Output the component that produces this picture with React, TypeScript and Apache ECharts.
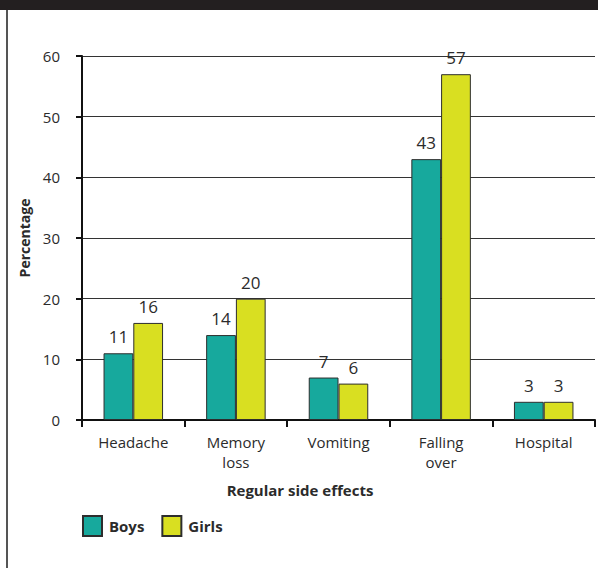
import React, { useEffect, useRef } from "react";
import * as echarts from "echarts";

const categories = ["Headache", "Memory\nloss", "Vomiting", "Falling\nover", "Hospital"];
const boys = [11, 14, 7, 43, 3];
const girls = [16, 20, 6, 57, 3];
const yTicks = { min: 0, max: 60, interval: 10 };

const FONT = "'Open Sans', sans-serif";
const TEXT = "#2b2b2b";

export default function App() {
  const ref = useRef<HTMLDivElement>(null);

  useEffect(() => {
    if (!ref.current) return;
    const chart = echarts.init(ref.current, null, { renderer: "svg" });
    const barLabel = {
      show: true,
      position: "top",
      distance: 8,
      fontSize: 17,
      fontFamily: FONT,
      color: TEXT,
    };
    chart.setOption({
      animation: false,
      backgroundColor: "#ffffff",
      textStyle: { fontFamily: FONT },
      grid: { left: 82, right: 3, top: 56, bottom: 148, containLabel: false },
      legend: {
        left: 82,
        top: 515,
        itemWidth: 19,
        itemHeight: 20,
        itemGap: 17,
        padding: 0,
        icon: "rect",
        textStyle: { fontFamily: FONT, fontSize: 15, fontWeight: "bold", color: TEXT, padding: [0, 0, 0, 2] },
        data: ["Boys", "Girls"],
      },
      xAxis: {
        type: "category",
        data: categories,
        boundaryGap: true,
        axisLine: { show: true, lineStyle: { color: "#111", width: 2 } },
        axisTick: { show: true, alignWithLabel: false, length: 7, lineStyle: { color: "#111", width: 2 } },
        axisLabel: { fontSize: 15, fontFamily: FONT, color: TEXT, margin: 12, lineHeight: 20, interval: 0 },
      },
      yAxis: {
        type: "value",
        min: yTicks.min,
        max: yTicks.max,
        interval: yTicks.interval,
        name: "Percentage",
        nameLocation: "middle",
        nameGap: 49,
        nameTextStyle: { fontFamily: FONT, fontSize: 14, fontWeight: "bold", color: TEXT },
        axisLine: { show: true, lineStyle: { color: "#111", width: 2 } },
        axisTick: { show: true, length: 6, lineStyle: { color: "#111", width: 2 } },
        axisLabel: { fontSize: 15, fontFamily: FONT, color: TEXT, margin: 22 },
        splitLine: { show: true, lineStyle: { color: "#333", width: 1 } },
      },
      series: [
        {
          name: "Boys",
          type: "bar",
          data: boys,
          barGap: "0%",
          barCategoryGap: "42%",
          itemStyle: { color: "#17A99D", borderColor: "#2d2d2d", borderWidth: 1 },
          label: barLabel,
        },
        {
          name: "Girls",
          type: "bar",
          data: girls,
          itemStyle: { color: "#D9DF21", borderColor: "#2d2d2d", borderWidth: 1 },
          label: barLabel,
        },
      ],
      graphic: [
        { type: "rect", left: 0, top: 0, shape: { width: 598, height: 10 }, style: { fill: "#231F20" } },
        { type: "rect", left: 6, top: 10, shape: { width: 2, height: 558 }, style: { fill: "#555" } },
        {
          type: "text",
          x: 300,
          y: 490,
          style: {
            text: "Regular side effects",
            fontFamily: FONT,
            fontSize: 15,
            fontWeight: "bold",
            fill: TEXT,
            align: "center",
            verticalAlign: "middle",
          },
        },
      ],
    });
    return () => chart.dispose();
  }, []);

  return (
    <div
      ref={ref}
      style={{ position: "fixed", left: 0, top: 0, width: 598, height: 568, background: "#fff" }}
    />
  );
}
